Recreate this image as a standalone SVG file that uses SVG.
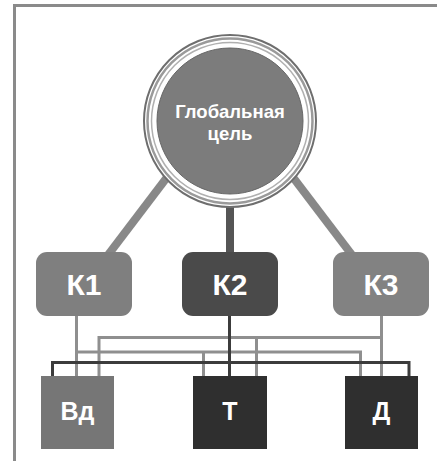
<svg xmlns="http://www.w3.org/2000/svg" width="437" height="461" viewBox="0 0 437 461">
  <style>
    .lbl { font-family: "Liberation Sans", Arial, sans-serif; font-weight: bold; fill: #ffffff; text-anchor: middle; }
    .wl { fill: none; stroke: #8f8f8f; stroke-width: 3; stroke-linejoin: miter; }
    .wd { fill: none; stroke: #3c3c3c; stroke-width: 3; stroke-linejoin: miter; }
  </style>
  <rect x="0" y="0" width="437" height="461" fill="#ffffff"/>
  <!-- frame edges -->
  <path d="M14.5 461 V5.5 H437" fill="none" stroke="#8a8a8a" stroke-width="3"/>

  <g id="connectors">
    <!-- goal to criteria -->
    <line x1="108" y1="255" x2="168" y2="176" stroke="#888888" stroke-width="8"/>
    <line x1="352" y1="255" x2="292" y2="176" stroke="#888888" stroke-width="8"/>
    <line x1="230" y1="200" x2="230" y2="254" stroke="#555555" stroke-width="8"/>
    <!-- K3 to Вд and Т -->
    <path class="wl" d="M381.5 316 V376 M381.5 337.5 H99 V376 M256.5 337.5 V376"/>
    <!-- K1 to Т and Д -->
    <path class="wl" d="M76.5 316 V376 M76.5 352 H360.5 V376 M203.5 352 V376"/>
    <!-- K2 to Вд and Д -->
    <path class="wd" d="M229.5 316 V376 M52.5 376 V362.5 H409 V376"/>
  </g>

  <g id="goal">
    <circle cx="230" cy="121" r="86" fill="#ffffff" stroke="#6e6e6e" stroke-width="2"/>
    <circle cx="230" cy="121" r="82.5" fill="none" stroke="#9a9a9a" stroke-width="2.5"/>
    <circle cx="230" cy="121" r="78.5" fill="none" stroke="#b0b0b0" stroke-width="1.5"/>
    <circle cx="230" cy="121" r="73" fill="#7c7c7c" stroke="#666666" stroke-width="1"/>
    <text class="lbl" x="230" y="118" font-size="18.5">Глобальная</text>
    <text class="lbl" x="230" y="140" font-size="18.5">цель</text>
  </g>

  <g id="k1">
    <rect x="36" y="252" width="96" height="64" rx="11" fill="#7f7f7f"/>
    <text class="lbl" x="84" y="295" font-size="30">К1</text>
  </g>
  <g id="k2">
    <rect x="182" y="252" width="96" height="64" rx="11" fill="#4a4a4a"/>
    <text class="lbl" x="230" y="295" font-size="30">К2</text>
  </g>
  <g id="k3">
    <rect x="333" y="252" width="96" height="64" rx="11" fill="#828282"/>
    <text class="lbl" x="381" y="295" font-size="30">К3</text>
  </g>

  <g id="vd">
    <rect x="41" y="376" width="73" height="73" fill="#767676"/>
    <text class="lbl" x="77.5" y="420" font-size="25">Вд</text>
  </g>
  <g id="t">
    <rect x="193" y="376" width="74" height="73" fill="#2f2f2f"/>
    <text class="lbl" x="230" y="420" font-size="25">Т</text>
  </g>
  <g id="d">
    <rect x="345" y="376" width="73" height="73" fill="#2f2f2f"/>
    <text class="lbl" x="381.5" y="420" font-size="25">Д</text>
  </g>
</svg>
